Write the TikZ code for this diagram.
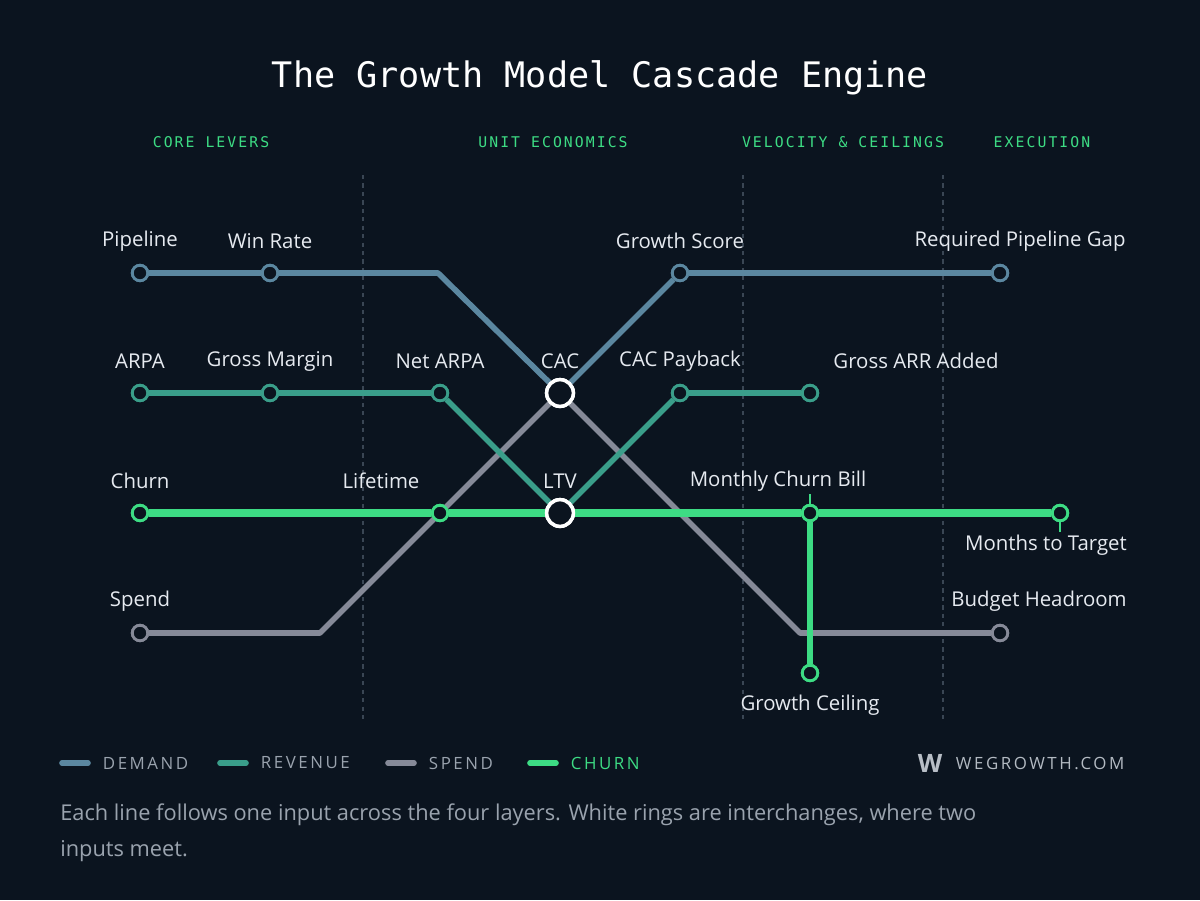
\documentclass[tikz,border=0pt]{standalone}
\usepackage{fontspec}
\setmainfont{Open Sans}
\newfontfamily\monofont{DejaVu Sans Mono}
\newfontfamily\spacedfont{Open Sans}[LetterSpace=15]
\definecolor{bgc}{HTML}{0B141F}
\definecolor{demand}{HTML}{5B87A0}
\definecolor{revenue}{HTML}{3A9E8A}
\definecolor{spendc}{HTML}{868A98}
\definecolor{churn}{HTML}{3DDC84}
\definecolor{divc}{HTML}{3A4654}
\definecolor{labc}{HTML}{E6EAF0}
\definecolor{footc}{HTML}{9AA3AE}
\tikzset{
  stop/.style={circle,draw,line width=2pt,fill=bgc,minimum size=11pt,inner sep=0pt},
  ring/.style={circle,draw=white,line width=2.5pt,fill=bgc,minimum size=19pt,inner sep=0pt},
  lab/.style={text=labc,font=\fontsize{14.5}{16}\selectfont},
  head/.style={text=churn,font=\monofont\fontsize{10.5}{12}\selectfont\addfontfeatures{LetterSpace=14}},
  leg/.style={font=\spacedfont\fontsize{12}{13}\selectfont,anchor=west},
  line/.style={line width=4pt,line join=round}
}
\begin{document}
\begin{tikzpicture}[x=0.025cm,y=-0.025cm]
  \fill[bgc] (0,0) rectangle (1200,900);
  \useasboundingbox (0,0) rectangle (1200,900);
  \node[text=white,font=\monofont\fontsize{25}{30}\selectfont] (title) at (600,78) {The Growth Model Cascade Engine};
  \node[head] (h1) at (211,142) {CORE LEVERS};
  \node[head] (h2) at (553,142) {UNIT ECONOMICS};
  \node[head] (h3) at (843,142) {VELOCITY \& CEILINGS};
  \node[head] (h4) at (1042,142) {EXECUTION};
  \foreach \x in {363,743,943}
    \draw[divc,dashed,line width=1pt] (\x,175) -- (\x,722);
  % coordinates
  \coordinate (d1) at (438,273);
  \coordinate (s1) at (320,633);
  \coordinate (s2) at (800,633);
  % stops
  \node[stop,draw=demand] (pipe) at (140,273) {};
  \node[stop,draw=demand] (win) at (270,273) {};
  \node[stop,draw=demand] (gscore) at (680,273) {};
  \node[stop,draw=demand] (gap) at (1000,273) {};
  \node[stop,draw=revenue] (arpa) at (140,393) {};
  \node[stop,draw=revenue] (gm) at (270,393) {};
  \node[stop,draw=revenue] (narpa) at (440,393) {};
  \node[stop,draw=revenue] (payb) at (680,393) {};
  \node[stop,draw=revenue] (garr) at (810,393) {};
  \node[stop,draw=churn] (churnn) at (140,513) {};
  \node[stop,draw=churn] (life) at (440,513) {};
  \node[stop,draw=churn] (bill) at (810,513) {};
  \node[stop,draw=churn] (mtt) at (1060,513) {};
  \node[stop,draw=churn] (ceil) at (810,673) {};
  \node[stop,draw=spendc] (spend) at (140,633) {};
  \node[stop,draw=spendc] (head) at (1000,633) {};
  \node[ring] (cac) at (560,393) {};
  \node[ring] (ltv) at (560,513) {};
  % lines
  \draw[line,demand] (pipe) -- (win) -- (d1) -- (cac);
  \draw[line,demand] (cac) -- (gscore) -- (gap);
  \draw[line,spendc] (spend) -- (s1) -- (cac);
  \draw[line,spendc] (cac) -- (s2) -- (head);
  \draw[line,revenue] (arpa) -- (gm) -- (narpa) -- (ltv) -- (payb) -- (garr);
  \draw[line,churn,line width=5pt] (churnn) -- (life) -- (ltv) -- (bill) -- (mtt);
  \draw[line,churn] (bill) -- (ceil);
  % redraw stops on top
  \foreach \n/\c in {pipe/demand,win/demand,gscore/demand,gap/demand,arpa/revenue,gm/revenue,narpa/revenue,payb/revenue,garr/revenue,churnn/churn,life/churn,bill/churn,mtt/churn,ceil/churn,spend/spendc,head/spendc}
    \node[stop,draw=\c] at (\n) {};
  \node[ring] at (cac) {};
  \node[ring] at (ltv) {};
  \draw[churn,line width=1pt] (bill.north) -- ++(0,-10);
  \draw[churn,line width=1pt] (mtt.south) -- ++(0,10);
  % labels
  \node[lab] at (140,241) {Pipeline};
  \node[lab] at (270,241) {Win Rate};
  \node[lab] at (680,241) {Growth Score};
  \node[lab] at (1020,241) {Required Pipeline Gap};
  \node[lab] at (140,361) {ARPA};
  \node[lab] at (270,361) {Gross Margin};
  \node[lab] at (440,361) {Net ARPA};
  \node[lab] at (560,361) {CAC};
  \node[lab] at (680,361) {CAC Payback};
  \node[lab] at (916,361) {Gross ARR Added};
  \node[lab] at (140,481) {Churn};
  \node[lab] at (381,481) {Lifetime};
  \node[lab] at (560,481) {LTV};
  \node[lab] at (778,481) {Monthly Churn Bill};
  \node[lab] at (1046,545) {Months to Target};
  \node[lab] at (140,601) {Spend};
  \node[lab] at (1039,601) {Budget Headroom};
  \node[lab] at (810,705) {Growth Ceiling};
  % legend
  \foreach \x/\c/\t/\tc in {62/demand/DEMAND/footc,220/revenue/REVENUE/footc,388/spendc/SPEND/footc,530/churn/CHURN/churn}{
    \draw[\c,line width=4pt,line cap=round] (\x,763) -- (\x+26,763);
    \node[leg,text=\tc] at (\x+36,763) {\t};
  }
  \node[text=footc!70,font=\bfseries\fontsize{18}{20}\selectfont] (logo) at (930,763) {W};
  \node[leg,text=footc!75] at (951,763) {WEGROWTH.COM};
  \node[text=footc,font=\fontsize{15.5}{25}\selectfont,anchor=north west,align=left,inner sep=0pt] (foot) at (60,804) {Each line follows one input across the four layers. White rings are interchanges, where two\\inputs meet.};
\end{tikzpicture}
\end{document}
